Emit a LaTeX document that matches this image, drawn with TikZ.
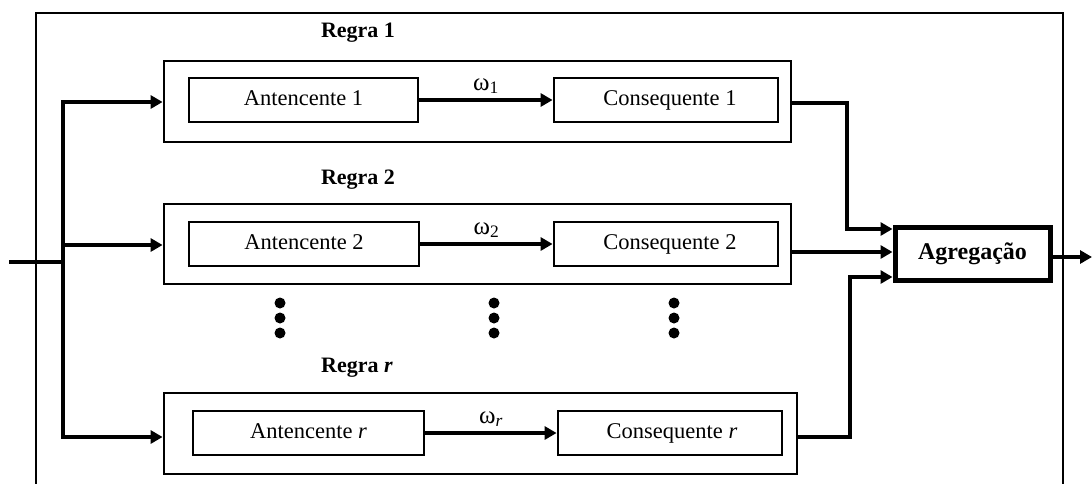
\documentclass[tikz,border=0pt]{standalone}
\usepackage{fontspec}
\setmainfont{Liberation Serif}
\usetikzlibrary{arrows.meta}
\begin{document}
\begin{tikzpicture}[x=1pt,y=-1pt,
  rulebox/.style={draw,line width=2.8pt,inner sep=0pt},
  blk/.style={draw,line width=2.8pt,inner sep=0pt,text height=15pt,text depth=4pt,font=\fontsize{22.5}{26}\selectfont},
  agg/.style={draw,line width=5pt,inner sep=0pt,text height=16pt,text depth=5pt,font=\fontsize{24}{28}\selectfont\bfseries},
  lbl/.style={font=\fontsize{22}{26}\selectfont\bfseries},
  wlbl/.style={font=\fontsize{25}{28}\selectfont},
  conn/.style={line width=3.6pt,-{Triangle[length=12pt,width=13pt]}},
  wire/.style={line width=3.6pt},
  dot/.style={circle,fill,inner sep=0pt,minimum size=11pt}]
\useasboundingbox (0,0) rectangle (1092,483);
% outer frame (cut at bottom)
\draw[line width=2.6pt] (36,490) -- (36,13) -- (1063,13) -- (1063,490);
% rule boxes
\node[rulebox,minimum width=627pt,minimum height=81pt] (r1) at (477.5,101.5) {};
\node[rulebox,minimum width=627pt,minimum height=80pt] (r2) at (477.5,244) {};
\node[rulebox,minimum width=633pt,minimum height=81pt] (rr) at (480.5,433.5) {};
% labels
\node[lbl] (l1) at (358,33) {Regra 1};
\node[lbl] (l2) at (358,180) {Regra 2};
\node[lbl] (lr) at (357,368) {Regra \textit{r}};
% inner blocks
\node[blk,minimum width=229pt,minimum height=44pt] (a1) at (303.5,100) {Antencente 1};
\node[blk,minimum width=224pt,minimum height=44pt] (c1) at (666,100) {\hspace{8pt}Consequente 1};
\node[blk,minimum width=230pt,minimum height=44pt] (a2) at (304,244) {Antencente 2};
\node[blk,minimum width=224pt,minimum height=44pt] (c2) at (666,244) {\hspace{8pt}Consequente 2};
\node[blk,minimum width=231pt,minimum height=44pt] (ar) at (308.5,433) {Antencente \textit{r}};
\node[blk,minimum width=224pt,minimum height=44pt] (cr) at (670,433) {\hspace{4pt}Consequente \textit{r}};
% aggregation
\node[agg,minimum width=155pt,minimum height=53pt] (ag) at (972.5,253.5) {Agregação};
% weights
\draw[conn] (a1.east) -- node[wlbl,above=1pt] {ω\textsubscript{1}} (c1.west);
\draw[conn] (a2.east) -- node[wlbl,above=1pt] {ω\textsubscript{2}} (c2.west);
\draw[conn] (ar.east) -- node[wlbl,above=1pt] {ω\textsubscript{\textit{r}}} (cr.west);
% input bus
\coordinate (in) at (9,262);
\coordinate (bus) at (63,262);
\coordinate (bt) at (63,102);
\coordinate (bb) at (63,437);
\draw[wire] (in) -- (bus);
\draw[wire,line cap=rect] (bt) -- (bb);
\draw[conn] (bt) -- (r1.west |- bt);
\draw[conn] (63,245) -- (r2.west |- 0,245);
\draw[conn] (bb) -- (rr.west |- bb);
% outputs to aggregation
\draw[conn] (r1.east |- 0,103) -- (847,103) -- (847,229) -- (ag.west |- 0,229);
\draw[conn] (r2.east |- 0,252) -- (ag.west |- 0,252);
\draw[conn] (rr.east |- 0,437) -- (850,437) -- (850,277) -- (ag.west |- 0,277);
\coordinate (out) at (1092,257);
\draw[conn] (ag.east |- out) -- (out);
% dots
\foreach \x/\n in {280/a,494/b,674/c}{
  \node[dot] (d\n1) at (\x,303) {};
  \node[dot] (d\n2) at (\x,318) {};
  \node[dot] (d\n3) at (\x,333) {};
}
\end{tikzpicture}
\end{document}
